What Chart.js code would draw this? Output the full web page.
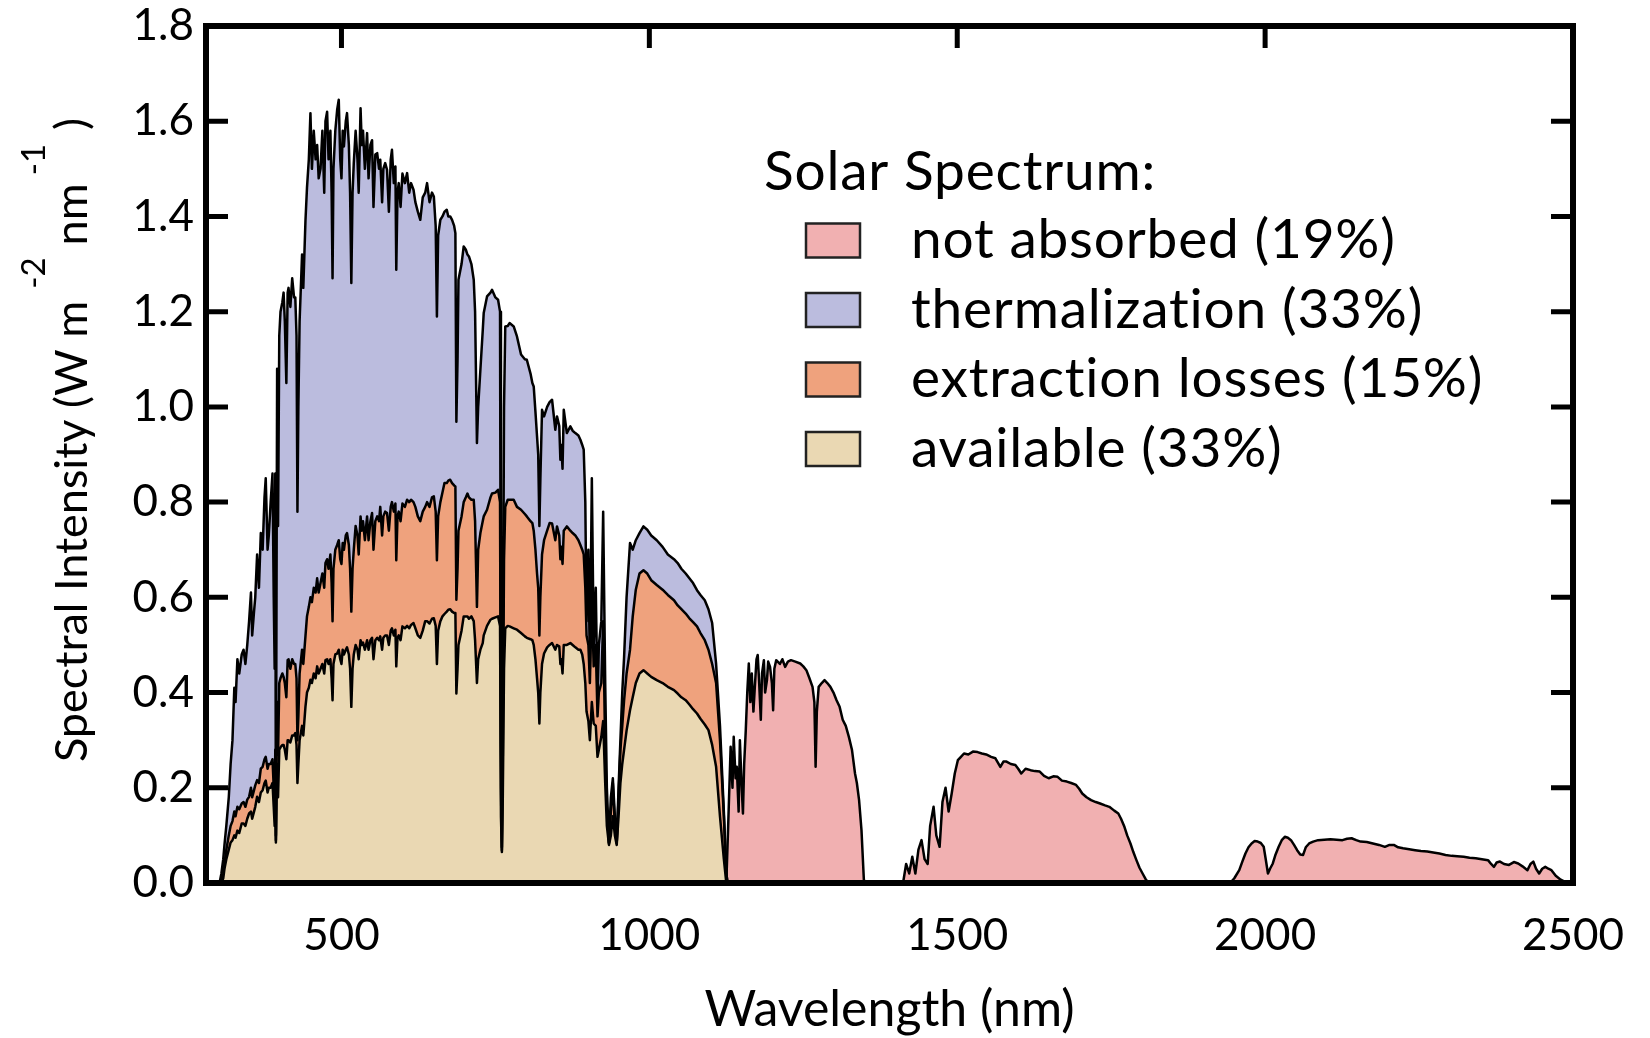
<!DOCTYPE html>
<html><head><meta charset="utf-8">
<script src="https://cdn.jsdelivr.net/npm/chart.js@4.4.1/dist/chart.umd.min.js"></script>
<style>html,body{margin:0;padding:0;background:#fff;}canvas{display:block;}</style>
</head><body>
<canvas id="c" width="1650" height="1038"></canvas>
<script>
// ---- data ----
const wavelengthAbs = [302,305,308,310,313,317,320,323,326,328,331,334,338,341,344,347,350,353,355,358,360,363,366,369,372,375,377,380,382,385,388,390,391.5,392.5,393.5,395.5,397,399,401,404,406,408,410.5,412.6,414,417,420,423,425,427,428.5,430,432,436,438,441.5,444,447,449.6,452,455,458,460.5,463,466,469,472,474,476.7,479,482,484,485.5,487,490,493,495.6,498,500,502,504,507,509,512,514,516,518,520,523,526,528,531,533,535,538,541.6,544,547,549.7,552,555,558,561,563,566,568,571,574,577,580,582,585,587.6,589,591,593,596,599,603,606.6,610,613,617,620,624,628,632,636,639,643,647,650,653,655,657,660.6,664,667.3,671,673.5,676.6,679.6,683,685,686.6,688.5,690,695,698.5,702,704.6,707,711,714.8,717,720,722,725.6,729.4,731,736.4,742,744.5,750,754.3,757.5,759,760.5,762,764,766,770,773,779.7,785,791.6,797.8,801,807,810,812.2,815,817.6,819.5,821.4,823,825.7,829,834,838,842,847.3,850,853.7,855.5,857,859,861,866,871.7,875.4,879.8,884.8,888,891,893.4,896,898,901,903.4,906.6,909.6,913,915.8,918,922,925,928.3,931,934.4,937.5,940.7,944,947,950,953,956,959,963,968.6,973,978,984,990.4,996.6,1003,1012,1021.5,1030,1040,1046,1052,1059,1065,1071,1077.4,1083,1090,1096,1102,1108.4,1114.7,1121,1125,1127];
const totalAbs = [0,0.02,0.05,0.08,0.12,0.18,0.25,0.30,0.41,0.38,0.47,0.44,0.48,0.49,0.46,0.50,0.55,0.61,0.52,0.57,0.60,0.69,0.62,0.735,0.70,0.81,0.85,0.70,0.73,0.80,0.86,0.60,0.45,0.86,0.10,1.08,0.75,1.15,1.20,1.22,1.24,1.18,1.05,1.24,1.25,1.21,1.27,1.23,1.23,1.15,0.78,1.00,1.18,1.32,1.25,1.39,1.46,1.52,1.617,1.50,1.58,1.52,1.55,1.48,1.50,1.58,1.45,1.60,1.62,1.52,1.58,1.45,1.27,1.50,1.58,1.624,1.645,1.52,1.48,1.58,1.547,1.60,1.617,1.55,1.45,1.26,1.45,1.512,1.58,1.52,1.45,1.627,1.55,1.58,1.50,1.575,1.48,1.55,1.56,1.42,1.53,1.533,1.50,1.519,1.43,1.50,1.512,1.498,1.41,1.52,1.54,1.47,1.505,1.288,1.45,1.47,1.42,1.49,1.47,1.491,1.45,1.47,1.456,1.43,1.41,1.393,1.44,1.45,1.47,1.43,1.45,1.442,1.38,1.19,1.36,1.393,1.40,1.41,1.414,1.40,1.40,1.393,1.38,1.365,0.969,1.10,1.267,1.30,1.337,1.33,1.32,1.316,1.30,1.267,1.20,0.924,1.00,1.078,1.16,1.197,1.232,1.24,1.246,1.23,1.225,1.20,0.30,0.075,0.40,1.00,1.169,1.17,1.176,1.169,1.148,1.11,1.10,1.099,1.07,1.05,1.043,0.99,0.938,0.90,0.75,0.847,0.994,0.98,1.0,1.01,1.015,0.952,0.98,0.96,0.889,0.92,0.87,0.994,0.945,0.959,0.95,0.945,0.94,0.931,0.92,0.91,0.80,0.55,0.70,0.45,0.85,0.50,0.62,0.38,0.50,0.55,0.78,0.42,0.20,0.085,0.18,0.22,0.14,0.085,0.20,0.30,0.40,0.475,0.60,0.714,0.70,0.72,0.735,0.749,0.742,0.73,0.72,0.706,0.69,0.68,0.672,0.66,0.65,0.64,0.63,0.615,0.605,0.594,0.575,0.546,0.46,0.33,0.15,0.02,0];
const extractionTop = [0,0.005,0.02,0.04,0.07,0.10,0.12,0.13,0.15,0.14,0.16,0.155,0.167,0.17,0.16,0.175,0.181,0.20,0.18,0.195,0.205,0.216,0.21,0.24,0.244,0.26,0.265,0.24,0.25,0.25,0.26,0.20,0.15,0.28,0.09,0.38,0.27,0.42,0.43,0.44,0.433,0.42,0.39,0.468,0.47,0.45,0.47,0.46,0.46,0.43,0.30,0.35,0.44,0.49,0.46,0.518,0.56,0.58,0.60,0.59,0.62,0.61,0.64,0.61,0.63,0.65,0.62,0.672,0.68,0.66,0.69,0.63,0.55,0.66,0.70,0.71,0.72,0.68,0.67,0.714,0.70,0.73,0.735,0.71,0.66,0.57,0.66,0.70,0.75,0.73,0.69,0.77,0.74,0.76,0.72,0.77,0.72,0.76,0.777,0.70,0.76,0.77,0.76,0.79,0.73,0.77,0.78,0.777,0.74,0.79,0.80,0.78,0.797,0.678,0.77,0.78,0.76,0.797,0.79,0.805,0.80,0.805,0.80,0.79,0.77,0.76,0.78,0.79,0.80,0.79,0.81,0.812,0.78,0.678,0.77,0.80,0.82,0.84,0.84,0.845,0.847,0.84,0.835,0.833,0.595,0.66,0.74,0.77,0.80,0.81,0.818,0.81,0.805,0.805,0.76,0.58,0.70,0.735,0.76,0.77,0.784,0.81,0.818,0.82,0.826,0.80,0.20,0.069,0.27,0.68,0.79,0.805,0.805,0.805,0.79,0.784,0.775,0.77,0.76,0.756,0.74,0.70,0.65,0.62,0.52,0.60,0.69,0.72,0.74,0.756,0.755,0.72,0.749,0.73,0.68,0.706,0.67,0.74,0.749,0.74,0.735,0.73,0.72,0.71,0.70,0.69,0.62,0.52,0.50,0.42,0.60,0.455,0.50,0.35,0.40,0.42,0.55,0.28,0.16,0.083,0.15,0.21,0.12,0.083,0.18,0.28,0.33,0.384,0.44,0.49,0.56,0.616,0.65,0.657,0.65,0.636,0.626,0.616,0.605,0.594,0.583,0.575,0.566,0.556,0.548,0.539,0.525,0.51,0.49,0.46,0.42,0.30,0.14,0.02,0];
const availableTop = [0,0,0.01,0.03,0.05,0.07,0.085,0.09,0.10,0.095,0.11,0.105,0.125,0.125,0.12,0.135,0.146,0.15,0.135,0.15,0.16,0.181,0.17,0.19,0.195,0.21,0.215,0.19,0.20,0.20,0.21,0.16,0.12,0.19,0.085,0.25,0.18,0.28,0.285,0.29,0.29,0.28,0.26,0.30,0.30,0.295,0.31,0.31,0.315,0.29,0.21,0.25,0.30,0.33,0.31,0.37,0.40,0.41,0.427,0.42,0.44,0.43,0.455,0.44,0.45,0.46,0.44,0.468,0.47,0.46,0.47,0.43,0.384,0.46,0.48,0.482,0.49,0.47,0.46,0.49,0.48,0.49,0.495,0.48,0.45,0.37,0.45,0.48,0.50,0.49,0.47,0.51,0.50,0.505,0.49,0.51,0.49,0.51,0.515,0.47,0.51,0.515,0.51,0.518,0.49,0.515,0.52,0.52,0.50,0.53,0.535,0.52,0.532,0.455,0.515,0.52,0.51,0.539,0.535,0.54,0.535,0.542,0.546,0.535,0.52,0.515,0.53,0.55,0.55,0.545,0.555,0.556,0.54,0.46,0.53,0.55,0.56,0.565,0.57,0.574,0.575,0.57,0.567,0.567,0.398,0.45,0.50,0.53,0.56,0.56,0.56,0.555,0.56,0.55,0.51,0.42,0.47,0.49,0.504,0.52,0.54,0.553,0.555,0.558,0.56,0.54,0.14,0.065,0.18,0.45,0.535,0.54,0.539,0.535,0.532,0.525,0.518,0.515,0.512,0.51,0.50,0.47,0.43,0.40,0.335,0.40,0.46,0.482,0.495,0.50,0.504,0.49,0.50,0.497,0.46,0.47,0.44,0.50,0.50,0.504,0.50,0.495,0.49,0.49,0.48,0.46,0.42,0.36,0.34,0.30,0.38,0.335,0.33,0.265,0.28,0.307,0.34,0.21,0.12,0.08,0.10,0.14,0.10,0.08,0.14,0.21,0.25,0.28,0.32,0.363,0.39,0.42,0.44,0.447,0.44,0.433,0.426,0.42,0.412,0.405,0.398,0.39,0.384,0.375,0.365,0.356,0.345,0.333,0.321,0.29,0.244,0.14,0.05,0.0,0];
const wavelengthIR = [1125,1128,1132,1135,1137,1140,1142,1145,1147,1150,1152,1154,1156.6,1159,1161.5,1164,1166.4,1169,1171,1174,1176,1178,1181,1183,1186,1188,1191,1193,1196,1199,1201,1203,1206,1212,1216,1220.5,1225,1230,1237,1245,1250,1255,1260,1265,1268,1270,1272,1275,1280,1284.5,1289,1294,1299,1304,1309,1314,1319,1324,1329,1334,1337,1340.6,1344.5,1348.4,1353,1412,1417,1422,1427,1432,1437,1442,1447,1452,1456,1461.6,1466,1471.4,1476,1481,1486,1491,1496,1501,1506,1511,1518,1525.5,1533,1540,1547,1555,1562,1570,1575,1580,1587,1594.4,1599,1604,1611,1619,1626,1634,1641,1648.5,1656,1663,1670,1678,1685,1693,1698,1703,1710,1717.4,1725,1732,1740,1747,1755,1761.6,1766,1771.5,1776,1781.3,1786,1791,1796,1801,1806,1811,1943,1950,1958,1963,1968,1973,1978,1983,1988,1993,1997.7,2001,2004.6,2008,2012.5,2017,2022,2027,2032,2037,2042,2047,2052,2057,2061.7,2066,2071.5,2078,2086,2096,2106,2116,2125.6,2133,2140.4,2148,2155,2165,2175,2185,2194.5,2202,2209,2216,2224,2234,2243.7,2253,2263.4,2273,2283,2293,2303,2312,2322.4,2332,2342,2352,2362,2367,2371.6,2376,2381.4,2388,2396,2404,2411,2418,2426,2431,2435.5,2440,2445,2450,2455,2460,2465,2472,2480,2488,2495];
const notAbsorbed = [0,0.12,0.286,0.20,0.307,0.22,0.244,0.15,0.30,0.20,0.146,0.25,0.321,0.40,0.461,0.38,0.44,0.36,0.405,0.47,0.479,0.43,0.343,0.44,0.468,0.40,0.426,0.465,0.454,0.42,0.363,0.45,0.468,0.46,0.47,0.454,0.465,0.468,0.465,0.461,0.455,0.447,0.43,0.412,0.38,0.244,0.36,0.412,0.42,0.426,0.42,0.412,0.40,0.384,0.37,0.343,0.33,0.307,0.28,0.23,0.21,0.174,0.111,0.006,0,0,0.04,0.02,0.055,0.02,0.07,0.09,0.05,0.04,0.12,0.16,0.10,0.076,0.17,0.20,0.15,0.188,0.23,0.258,0.265,0.272,0.27,0.276,0.275,0.272,0.27,0.265,0.262,0.244,0.255,0.255,0.25,0.248,0.24,0.23,0.24,0.237,0.235,0.234,0.225,0.22,0.224,0.223,0.215,0.213,0.21,0.206,0.198,0.188,0.18,0.174,0.17,0.167,0.163,0.16,0.152,0.146,0.135,0.118,0.10,0.083,0.065,0.048,0.032,0.02,0.008,0,0,0.01,0.027,0.045,0.062,0.075,0.083,0.088,0.087,0.084,0.076,0.05,0.02,0.03,0.041,0.06,0.076,0.09,0.097,0.095,0.09,0.08,0.069,0.06,0.059,0.075,0.083,0.087,0.09,0.091,0.092,0.091,0.09,0.093,0.094,0.09,0.087,0.086,0.083,0.08,0.076,0.08,0.08,0.075,0.073,0.071,0.069,0.067,0.066,0.064,0.062,0.059,0.057,0.056,0.055,0.053,0.052,0.05,0.048,0.04,0.034,0.043,0.045,0.04,0.038,0.044,0.041,0.035,0.027,0.04,0.045,0.03,0.02,0.03,0.034,0.03,0.027,0.015,0.007,0.002,0];
const xTickValues = [500, 1000, 1500, 2000, 2500];
const yTickValues = [0, 0.2, 0.4, 0.6, 0.8, 1.0, 1.2, 1.4, 1.6, 1.8];
const yTickLabels = ['0.0','0.2','0.4','0.6','0.8','1.0','1.2','1.4','1.6','1.8'];
const legendTitle = 'Solar Spectrum:';
const legendNames = ['not absorbed (19%)', 'thermalization (33%)', 'extraction losses (15%)', 'available (33%)'];
const legendColors = ['#F1B0B1', '#BBBCDE', '#EFA27D', '#EAD8B3'];
const xTitle = 'Wavelength (nm)';
const yTitleParts = ['Spectral Intensity (W m', '-2', 'nm', '-1', ')'];

const FONT = 'Lato, "Open Sans", sans-serif';
const pts = (xs, ys) => xs.map((x, i) => ({x: x, y: ys[i]}));

const lineStyle = {borderColor: '#000', borderWidth: 2.5, pointRadius: 0, tension: 0, borderJoinStyle: 'round'};

const framePlugin = {
  id: 'frame',
  afterDatasetsDraw(chart) {
    const {ctx, chartArea: a, scales} = chart;
    ctx.save();
    ctx.strokeStyle = '#000';
    ctx.lineWidth = 5;
    ctx.lineCap = 'butt';
    const tl = 22;
    ctx.beginPath();
    yTickValues.forEach(v => {
      const y = scales.y.getPixelForValue(v);
      if (v > 0 && v < 1.8) {
        ctx.moveTo(a.left, y); ctx.lineTo(a.left + tl, y);
        ctx.moveTo(a.right, y); ctx.lineTo(a.right - tl, y);
      }
    });
    xTickValues.forEach(v => {
      const x = scales.x.getPixelForValue(v);
      if (v < 2500) { ctx.moveTo(x, a.top); ctx.lineTo(x, a.top + tl); }
    });
    ctx.stroke();
    ctx.lineWidth = 6;
    ctx.lineJoin = 'miter';
    ctx.strokeRect(a.left, a.top, a.right - a.left, a.bottom - a.top);
    ctx.restore();
  }
};

const textPlugin = {
  id: 'texts',
  afterDraw(chart) {
    const {ctx, chartArea: a} = chart;
    ctx.save();
    ctx.fillStyle = '#000';
    // x title
    ctx.font = '50px ' + FONT;
    ctx.textAlign = 'center';
    ctx.textBaseline = 'middle';
    ctx.fillText(xTitle, (a.left + a.right) / 2, 1010);
    // y title with superscripts
    const mainF = '45px ' + FONT, supF = '33px ' + FONT;
    const gaps = [12, 12, 8, 14];
    ctx.font = mainF; const w0 = ctx.measureText(yTitleParts[0]).width;
    const w2 = ctx.measureText(yTitleParts[2]).width;
    const w4 = ctx.measureText(yTitleParts[4]).width;
    ctx.font = supF; const w1 = ctx.measureText(yTitleParts[1]).width;
    const w3 = ctx.measureText(yTitleParts[3]).width;
    const total = w0 + w1 + w2 + w3 + w4 + gaps.reduce((s, g) => s + g, 0);
    ctx.translate(72, 440);
    ctx.rotate(-Math.PI / 2);
    ctx.textAlign = 'left';
    let x = -total / 2;
    ctx.font = mainF; ctx.fillText(yTitleParts[0], x, 0); x += w0 + gaps[0];
    ctx.font = supF; ctx.fillText(yTitleParts[1], x, -38); x += w1 + gaps[1];
    ctx.font = mainF; ctx.fillText(yTitleParts[2], x, 0); x += w2 + gaps[2];
    ctx.font = supF; ctx.fillText(yTitleParts[3], x, -38); x += w3 + gaps[3];
    ctx.font = mainF; ctx.fillText(yTitleParts[4], x, 0);
    ctx.restore();

    // legend
    ctx.save();
    ctx.textAlign = 'left';
    ctx.textBaseline = 'middle';
    ctx.font = '55px ' + FONT;
    if ('letterSpacing' in ctx) ctx.letterSpacing = '0.8px';
    ctx.fillStyle = '#000';
    ctx.fillText(legendTitle, 764, 172);
    legendNames.forEach((name, i) => {
      const yc = 240.5 + i * 69.5;
      ctx.fillStyle = legendColors[i];
      ctx.fillRect(806, yc - 17, 54, 34);
      ctx.lineWidth = 2.5;
      ctx.strokeStyle = '#222';
      ctx.strokeRect(806, yc - 17, 54, 34);
      ctx.fillStyle = '#000';
      ctx.fillText(name, 911, yc);
    });
    ctx.restore();
  }
};

new Chart(document.getElementById('c'), {
  type: 'line',
  data: {
    datasets: [
      Object.assign({label: legendNames[3], data: pts(wavelengthAbs, availableTop), fill: 'origin', backgroundColor: legendColors[3]}, lineStyle),
      Object.assign({label: legendNames[2], data: pts(wavelengthAbs, extractionTop), fill: '-1', backgroundColor: legendColors[2]}, lineStyle),
      Object.assign({label: legendNames[1], data: pts(wavelengthAbs, totalAbs), fill: '-1', backgroundColor: legendColors[1]}, lineStyle),
      Object.assign({label: legendNames[0], data: pts(wavelengthIR, notAbsorbed), fill: 'origin', backgroundColor: legendColors[0]}, lineStyle)
    ]
  },
  options: {
    responsive: false,
    animation: false,
    devicePixelRatio: 1,
    layout: {padding: {top: 26, right: 77, left: 0, bottom: 0}},
    plugins: {
      legend: {display: false},
      tooltip: {enabled: false},
      filler: {drawTime: 'beforeDatasetsDraw'}
    },
    scales: {
      x: {
        type: 'linear', min: 280, max: 2500,
        afterBuildTicks: s => { s.ticks = xTickValues.map(v => ({value: v})); },
        afterFit: s => { s.height = 155; s.paddingLeft = 0; s.paddingRight = 0; },
        grid: {display: false, drawTicks: false},
        border: {display: false},
        ticks: {color: '#000', font: {family: FONT, size: 44}, padding: 26, maxRotation: 0, callback: v => String(v)}
      },
      y: {
        type: 'linear', min: 0, max: 1.8,
        afterBuildTicks: s => { s.ticks = yTickValues.map(v => ({value: v})); },
        afterFit: s => { s.width = 206; s.paddingTop = 0; s.paddingBottom = 0; },
        grid: {display: false, drawTicks: false},
        border: {display: false},
        ticks: {color: '#000', font: {family: FONT, size: 44}, padding: 12,
          callback: (v) => yTickLabels[yTickValues.findIndex(t => Math.abs(t - v) < 1e-9)]}
      }
    }
  },
  plugins: [framePlugin, textPlugin]
});
</script>
</body></html>
